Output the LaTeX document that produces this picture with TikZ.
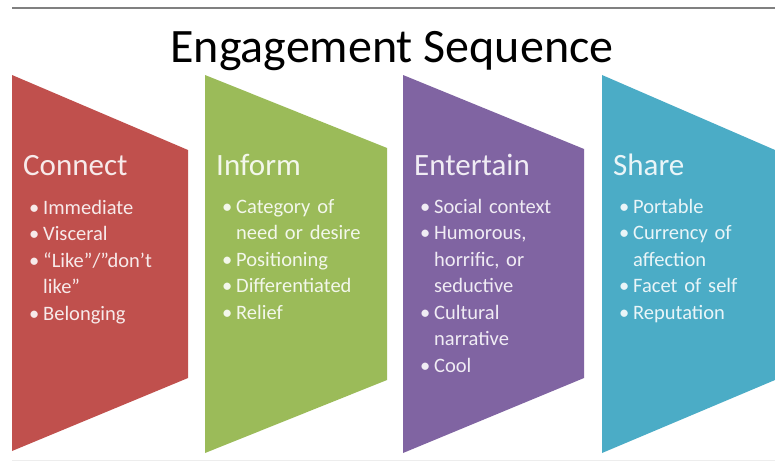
\documentclass[tikz,border=0pt]{standalone}
\usepackage{fontspec}
\setmainfont{Carlito}
\usepackage{tikz}

\definecolor{connectred}{RGB}{192,80,77}
\definecolor{informgreen}{RGB}{155,187,89}
\definecolor{entertainviolet}{RGB}{128,100,162}
\definecolor{shareblue}{RGB}{75,172,198}

\newcommand{\bul}{\makebox[14pt][l]{\textbullet}}
\newcommand{\ind}{\hspace*{14pt}}

\begin{document}
\begin{tikzpicture}[
    x=1pt, y=-1pt,
    title/.style={font=\fontsize{48}{52}\selectfont, anchor=base, inner sep=0pt},
    head/.style={font=\fontsize{31}{34}\selectfont, anchor=base west, inner sep=0pt},
    items/.style={font=\fontsize{20.5}{26.5}\selectfont, anchor=base west, inner sep=0pt, text width=170pt, align=left},
    topline/.style={draw=black!50, line width=2.5pt},
    edgeline/.style={draw=black!7, line width=1pt}
]
\useasboundingbox (0,0) rectangle (775,463);
\fill[white] (0,0) rectangle (775,463);

% Frame lines
\draw[topline] (12,8) -- (775,8);
\draw[edgeline] (12,460) -- (775,460);

% Title
\node[title] (title) at (392,62) {Engagement Sequence};

% Panels
\fill[connectred] (12,75) -- (188,150) -- (188,378) -- (12,451) -- cycle;
\fill[informgreen] (205,75) -- (387,148) -- (387,380) -- (205,453) -- cycle;
\fill[entertainviolet] (403,75) -- (584,149) -- (584,378) -- (403,453) -- cycle;
\fill[shareblue] (602,75) -- (775,150) -- (775,380) -- (602,453) -- cycle;

% Connect
\node[head, text=white!88!connectred] (conhead) at (23,175) {Connect};
\node[items, text=white!88!connectred] (conlist) at (29,214) {\bul Immediate\\
\bul Visceral\\
\bul ``Like''/''don't\\
\ind like''\\
\bul Belonging};

% Inform
\node[head, text=white!88!informgreen] (infhead) at (216,175) {Inform};
\node[items, text=white!88!informgreen] (inflist) at (222,213) {\bul Category of\\
\ind need or desire\\
\bul Positioning\\
\bul Differentiated\\
\bul Relief};

% Entertain
\node[head, text=white!88!entertainviolet] (enthead) at (414,175) {Entertain};
\node[items, text=white!88!entertainviolet] (entlist) at (420,213) {\bul Social context\\
\bul Humorous,\\
\ind horrific, or\\
\ind seductive\\
\bul Cultural\\
\ind narrative\\
\bul Cool};

% Share
\node[head, text=white!88!shareblue] (shahead) at (613,175) {Share};
\node[items, text=white!88!shareblue] (shalist) at (619,213) {\bul Portable\\
\bul Currency of\\
\ind affection\\
\bul Facet of self\\
\bul Reputation};

\end{tikzpicture}
\end{document}
